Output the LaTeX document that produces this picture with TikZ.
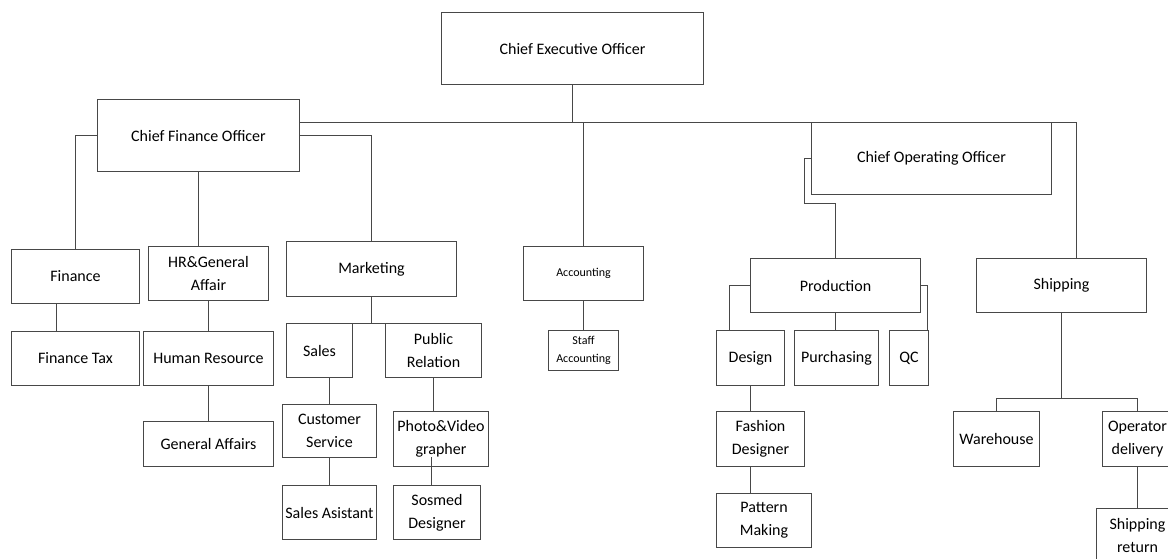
\documentclass[tikz,border=0pt]{standalone}
\usepackage{fontspec}
\setmainfont{Carlito}
\definecolor{linegray}{RGB}{72,72,72}
\tikzset{
  orgbox/.style={draw=linegray, line width=0.75pt, inner sep=1pt, align=center,
    font=\fontsize{12pt}{17.25pt}\selectfont, text=black},
  smalltext/.style={font=\fontsize{9pt}{14pt}\selectfont},
  link/.style={draw=linegray, line width=0.75pt},
}
% \orgnode[options]{x1}{y1}{x2}{y2}{name}{text}: box given by its corners
\newcommand\orgnode[7][]{%
  \node[orgbox,#1,minimum width={(#4-#2)*0.75pt},minimum height={(#5-#3)*0.75pt}]
    (#6) at ({(#2+#4)/2},{(#3+#5)/2}) {#7};}
\begin{document}
\begin{tikzpicture}[x=0.75pt,y=-0.75pt]
\useasboundingbox (0,0) rectangle (1168,558);
\fill[white] (0,0) rectangle (1168,558);
\clip (0,0) rectangle (1168,558);

% top level
\orgnode{441.5}{12.5}{703.5}{84.5}{ceo}{Chief Executive Officer}
\orgnode{97.5}{99.5}{299.5}{171.5}{cfo}{Chief Finance Officer}
\orgnode{811.5}{122.5}{1051.5}{194.5}{coo}{Chief Operating Officer}

% departments
\orgnode{11.5}{249.5}{139.5}{303.5}{fin}{Finance}
\orgnode{148.5}{246.5}{268.5}{300.5}{hrga}{HR\&General\\Affair}
\orgnode{286.5}{241.5}{456.5}{296.5}{mkt}{Marketing}
\orgnode[smalltext]{523.5}{246.5}{643.5}{300.5}{acc}{Accounting}
\orgnode{750.5}{258.5}{920.5}{312.5}{prod}{Production}
\orgnode{976.5}{258.5}{1146.5}{312.5}{ship}{Shipping}

% finance / HR branch
\orgnode{11.5}{331.5}{139.5}{385.5}{ftax}{Finance Tax}
\orgnode{143.5}{331.5}{273.5}{385.5}{hrm}{Human Resource}
\orgnode{143.5}{421.5}{273.5}{466.5}{ga}{General Affairs}

% marketing branch
\orgnode{286.5}{323.5}{352.5}{377.5}{sales}{Sales}
\orgnode{385.5}{323.5}{481.5}{377.5}{pr}{Public\\Relation}
\orgnode{282.5}{404.5}{376.5}{457.5}{cs}{Customer\\Service}
\orgnode{282.5}{485.5}{376.5}{539.5}{sa}{Sales Asistant}
\orgnode{393.5}{411.5}{488.5}{466.5}{photo}{Photo\&Video\\grapher}
\orgnode{393.5}{485.5}{480.5}{539.5}{sosmed}{Sosmed\\Designer}

% accounting branch
\orgnode[smalltext]{548.5}{330.5}{618.5}{370.5}{staff}{Staff\\Accounting}

% production branch
\orgnode{716.5}{330.5}{784.5}{385.5}{design}{Design}
\orgnode{794.5}{330.5}{878.5}{385.5}{purch}{Purchasing}
\orgnode{889.5}{330.5}{928.5}{385.5}{qc}{QC}
\orgnode{716.5}{411.5}{804.5}{466.5}{fashion}{Fashion\\Designer}
\orgnode{716.5}{493.5}{811.5}{547.5}{pattern}{Pattern\\Making}

% shipping branch
\orgnode{953.5}{411.5}{1039.5}{466.5}{wh}{Warehouse}
\orgnode{1102.5}{411.5}{1172.5}{466.5}{op}{Operator\\delivery}
\orgnode{1096.5}{508.5}{1178.5}{562.5}{sret}{Shipping\\return}

% main bus under the CEO
\coordinate (busL) at (299.5,122.5);
\coordinate (busR) at (1076.5,122.5);
\draw[link] (ceo.south) -- (ceo.south |- busL);
\draw[link] (cfo.east |- busL) -- (busR) -- (busR |- ship.north);
\draw[link] (acc.north) -- (acc.north |- busL);

% CFO links
\draw[link] (cfo.west) -| (fin.north);
\draw[link] (cfo.south) -- (cfo.south |- hrga.north);
\draw[link] (cfo.east) -| (mkt.north);
\draw[link] (fin.south -| 56.5,0) -- (ftax.north -| 56.5,0);
\draw[link] (hrga.south -| hrm.north) -- (hrm.north);
\draw[link] (hrm.south) -- (ga.north);

% marketing links
\draw[link] (mkt.south) -- (mkt.south |- sales.north);
\draw[link] (sales.north east) -- (pr.north west);
\draw[link] (sales.south -| cs.north) -- (cs.north);
\draw[link] (cs.south) -- (sa.north);
\draw[link] (pr.south) -- (pr.south |- photo.north);
\draw[link] (sosmed.north -| 431.5,0) -- ++(0,-28);

% accounting link
\draw[link] (acc.south) -- (staff.north);

% COO and production links
\coordinate (cooA) at (804.5,158.5);
\coordinate (cooB) at (804.5,203.5);
\draw[link] (coo.west) -- (cooA) -- (cooB) -| (prod.north);
\draw[link] (prod.west) -| (design.north -| 729.5,0);
\draw[link] (prod.south) -- (prod.south |- purch.north);
\draw[link] (prod.east) -| (qc.north -| 927.5,0);
\draw[link] (design.south) -- (design.south |- fashion.north);
\draw[link] (fashion.south -| design.south) -- (pattern.north -| design.south);

% shipping links
\coordinate (shipBus) at (1061.5,398.5);
\draw[link] (ship.south) -- (shipBus);
\draw[link] (wh.north) |- (op.north |- shipBus) -- (op.north);
\draw[link] (op.south) -- (sret.north);
\end{tikzpicture}
\end{document}
